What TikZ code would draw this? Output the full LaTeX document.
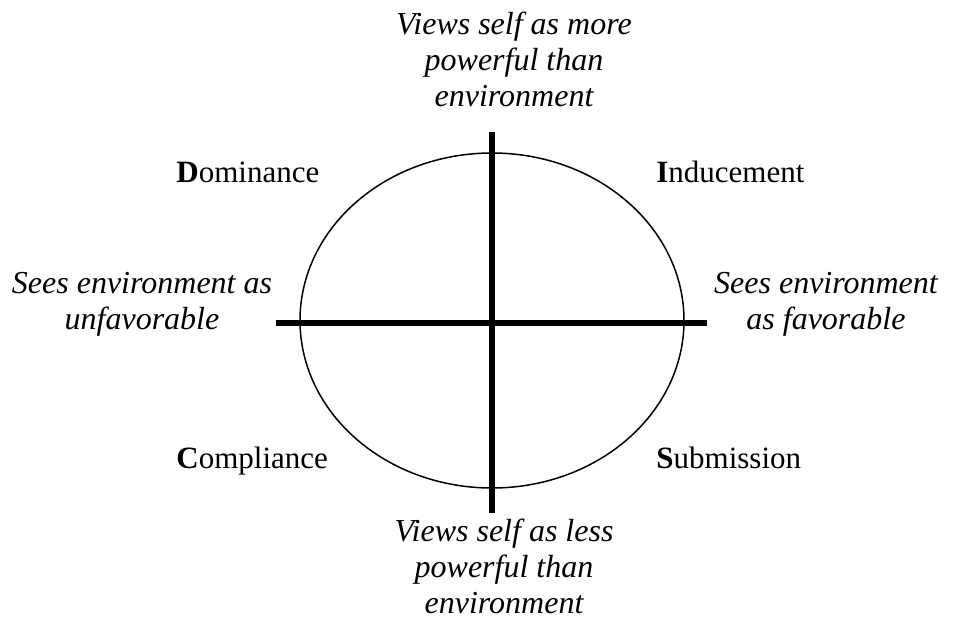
\documentclass[tikz,border=0pt]{standalone}
\usepackage{fontspec}
\setmainfont{Liberation Serif}[
    BoldFont=Liberation Serif Bold,
    ItalicFont=Liberation Serif Italic]
\usepackage{tikz}
\usetikzlibrary{shapes}

\begin{document}
\begin{tikzpicture}[x=0.5pt,y=-0.5pt]
            \useasboundingbox (0,0) rectangle (953,618);

            % the circle and the two axes
            \node[draw,ellipse,line width=0.75pt,inner sep=0pt,
                  minimum width=192pt,minimum height=167.5pt] (disc) at (492,320.5) {};
            \coordinate (N) at (492,132);
            \coordinate (S) at (492,513);
            \coordinate (W) at (276,323);
            \coordinate (E) at (707,323);
            \draw[line width=3pt] (N) -- (S);
            \draw[line width=3pt] (W) -- (E);

            % quadrant names
            \begin{scope}[every node/.style={inner sep=0pt,anchor=base west,
                          font=\fontsize{15.5}{18}\selectfont}]
                \node (D) at (176,182) {\textbf{D}ominance};
                \node (I) at (656,182) {\textbf{I}nducement};
                \node (C) at (176,468) {\textbf{C}ompliance};
                \node (Sub) at (656,468) {\textbf{S}ubmission};
            \end{scope}

            % axis labels
            \begin{scope}[every node/.style={inner sep=0pt,align=center,
                          font=\fontsize{16}{18}\selectfont\itshape}]
                \node (more) at (514,59.5) {Views self as more\\powerful than\\environment};
                \node (less) at (504,566) {Views self as less\\powerful than\\environment};
                \node (unfav) at (142,304) {Sees environment as\\unfavorable};
                \node (fav) at (826,304) {Sees environment\\as favorable};
            \end{scope}

\end{tikzpicture}
\end{document}
